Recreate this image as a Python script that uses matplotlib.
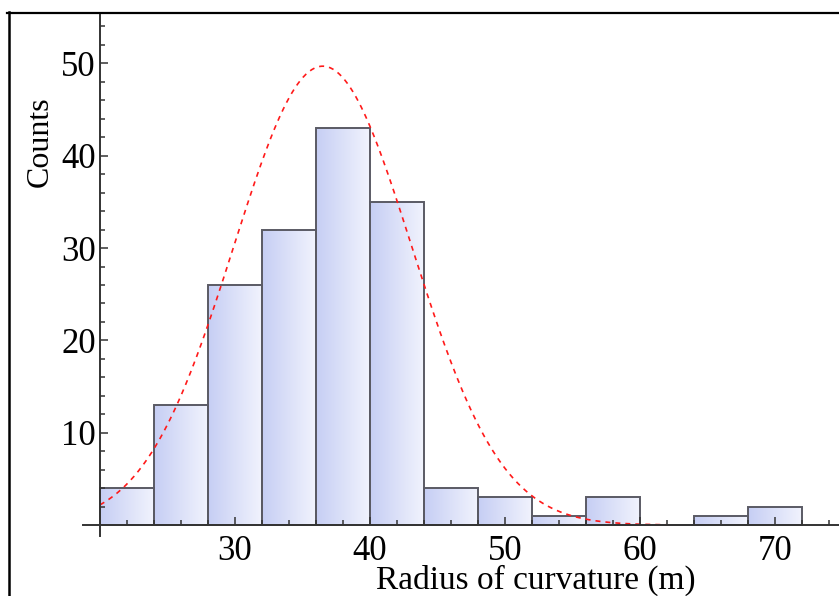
import numpy as np
import matplotlib
matplotlib.use("Agg")
import matplotlib.pyplot as plt
from matplotlib.colors import LinearSegmentedColormap
from matplotlib.lines import Line2D

# Histogram of radius of curvature (bin width 4 m)
bin_edges = [20, 24, 28, 32, 36, 40, 44, 48, 52, 56, 60, 64, 68, 72]
counts = [4, 13, 26, 32, 43, 35, 4, 3, 1, 3, 0, 1, 2]

# Gaussian fit overlay parameters
fit_amplitude = 49.7
fit_mean = 36.5
fit_sigma = 6.6
fit_range = (20, 62)

x_major_ticks = [30, 40, 50, 60, 70]
y_major_ticks = [10, 20, 30, 40, 50]

plt.rcParams["font.family"] = ["Liberation Serif", "DejaVu Serif"]

fig = plt.figure(figsize=(8.39, 5.96), dpi=100)
ax = fig.add_axes([83 / 839, 60 / 596, 756 / 839, 521 / 596])

W, H = 839, 596
x_per_px = 1 / 13.5
ax.set_xlim(20 - 17 * x_per_px, 20 + 739 * x_per_px)
ax.set_ylim(-11 / 9.25, 511 / 9.25)

# bars with a horizontal lavender-to-white gradient
cmap = LinearSegmentedColormap.from_list("bar", ["#c6cef4", "#f1f3fd"])
grad = np.linspace(0, 1, 256).reshape(1, -1)
lefts = np.array(bin_edges[:-1])
widths = np.diff(bin_edges)
bars = ax.bar(lefts, counts, width=widths, align="edge",
              facecolor="none", edgecolor="#5a5a64", linewidth=1.4, zorder=1.3)
for rect, c in zip(bars, counts):
    if c <= 0:
        continue
    x0, w = rect.get_x(), rect.get_width()
    im = ax.imshow(grad, cmap=cmap, aspect="auto",
                   extent=(x0, x0 + w, 0, c), zorder=1.1, interpolation="bilinear")
    im.set_clip_path(rect)

# fitted curve
xs = np.linspace(fit_range[0], fit_range[1], 400)
ys = fit_amplitude * np.exp(-(xs - fit_mean) ** 2 / (2 * fit_sigma ** 2))
ax.plot(xs, ys, color="#ff1a1a", linestyle=(0, (3, 3)), linewidth=1.2, zorder=2)

# Mathematica-style axes crossing at (20, 0)
ax.set_axisbelow(False)
for side in ("top", "right"):
    ax.spines[side].set_visible(False)
ax.spines["left"].set_position(("data", 20))
ax.spines["bottom"].set_position(("data", 0))
for side in ("left", "bottom"):
    ax.spines[side].set_linewidth(1.4)
    ax.spines[side].set_color("#333333")
    ax.spines[side].set_zorder(3)

ax.set_xticks(x_major_ticks)
ax.set_xticks(np.arange(22, 75, 2), minor=True)
ax.set_yticks(y_major_ticks)
ax.set_yticks(np.arange(2, 55, 2), minor=True)
ax.tick_params(which="both", direction="in", color="#333333", width=1.1, labelsize=25)
ax.tick_params(which="major", length=6)
ax.tick_params(which="minor", length=3.5)
ax.tick_params(axis="x", pad=7)
ax.tick_params(axis="y", pad=3)
ax.patch.set_alpha(0)

fig.text(40 / W, 1 - 142 / H, "Counts", rotation=90, ha="center", va="center", fontsize=23)
fig.text(536 / W, 1 - 589 / H, "Radius of curvature (m)", ha="center", va="baseline",
         fontsize=24)

# page frame lines (top and left)
fig.add_artist(Line2D([7 / W, 1.0], [1 - 12.5 / H, 1 - 12.5 / H],
                      transform=fig.transFigure, color="black", linewidth=1.6))
fig.add_artist(Line2D([8.5 / W, 8.5 / W], [1 - 12 / H, 0.0],
                      transform=fig.transFigure, color="black", linewidth=1.8))

fig.savefig("out.png", dpi=100)
